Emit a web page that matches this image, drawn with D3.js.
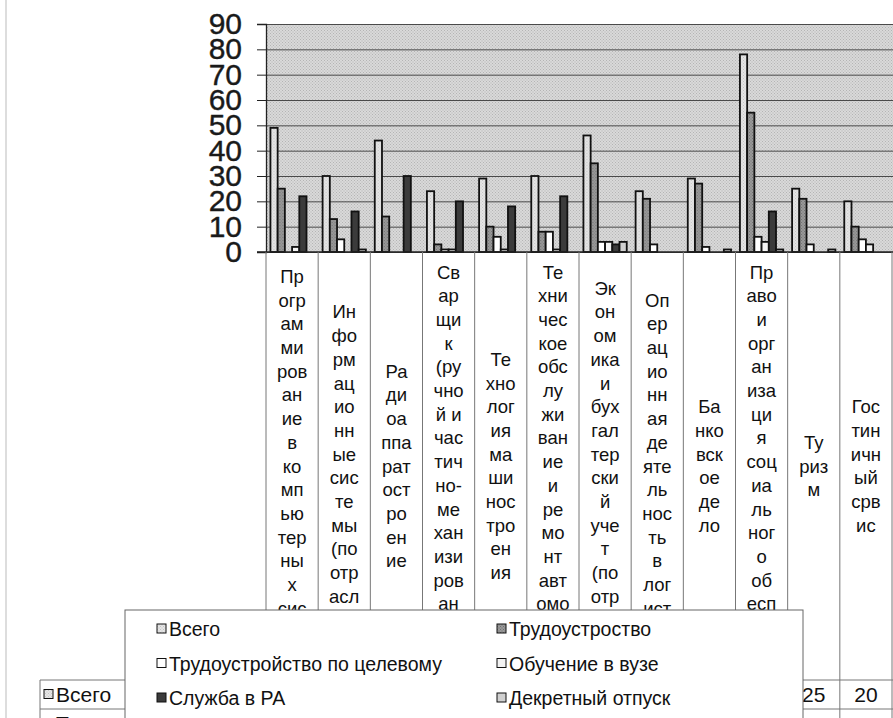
<!DOCTYPE html>
<html>
<head>
<meta charset="utf-8">
<script src="https://cdn.jsdelivr.net/npm/d3@7"></script>
<style>
  body { margin: 0; background: #fff; }
  svg { display: block; font-family: "Liberation Sans", Arial, sans-serif; }
</style>
</head>
<body>
<script>
// categories, with the line breaks the data table used ("|")
const categories = [
  "Пр|огр|ам|ми|ров|ан|ие|в|ко|мп|ью|тер|ны|х|сис|тем|ах",
  "Ин|фо|рм|ац|ио|нн|ые|сис|те|мы|(по|отр|асл|ям)",
  "Ра|ди|оа|ппа|рат|ост|ро|ен|ие",
  "Св|ар|щи|к|(ру|чно|й и|час|тич|но-|ме|хан|изи|ров|ан|ной|сва|рки)",
  "Те|хно|лог|ия|ма|ши|нос|тро|ен|ия",
  "Те|хни|чес|кое|обс|лу|жи|ван|ие|и|ре|мо|нт|авт|омо|бил|ьно|го|тра|нсп|орт|а",
  "Эк|он|ом|ика|и|бух|гал|тер|ски|й|уче|т|(по|отр|асл|ям)",
  "Оп|ер|ац|ио|нн|ая|де|яте|ль|нос|ть|в|лог|ист|ике",
  "Ба|нко|вск|ое|де|ло",
  "Пр|аво|и|орг|ан|иза|ци|я|соц|иа|ль|ног|о|об|есп|еч|ени|я",
  "Ту|риз|м",
  "Гос|тин|ичн|ый|срв|ис"
];

const seriesNames = ["Всего", "Трудоустроство", "Трудоустройство по целевому",
                     "Обучение в вузе", "Служба в РА", "Декретный отпуск"];

// series values
const vsego   = [49, 30, 44, 24, 29, 30, 46, 24, 29, 78, 25, 20];
const trud    = [25, 13, 14,  3, 10,  8, 35, 21, 27, 55, 21, 10];
const celevoy = [ 0,  5,  0,  1,  6,  8,  4,  3,  2,  6,  3,  5];
const vuz     = [ 2,  0,  0,  1,  1,  1,  4,  0,  0,  4,  0,  3];
const armiya  = [22, 16, 30, 20, 18, 22,  3,  0,  0, 16,  0,  0];
const dekret  = [ 0,  1,  0,  0,  0,  0,  4,  0,  1,  1,  1,  0];

const yTicks = [0, 10, 20, 30, 40, 50, 60, 70, 80, 90];

const series = [vsego, trud, celevoy, vuz, armiya, dekret];
const fills = ["url(#pLight)", "url(#pMid)", "#ffffff", "#f3f3f3", "#3b3b3b", "#d0d0d0"];

//chart frame
let width = 893,
    height = 718;
let plotLeft = 266, plotRight = 892, plotTop = 24, plotBottom = 252;
let legendBox = { x: 125, y: 610, w: 678 };

let svg = d3.select("body")
    .append("svg")
    .attr("width", width)
    .attr("height", height);

//patterns for the scanned, stippled look
let defs = svg.append("defs");
function stipple(id, base, dot) {
    let p = defs.append("pattern")
        .attr("id", id)
        .attr("patternUnits", "userSpaceOnUse")
        .attr("width", 3).attr("height", 3);
    p.append("rect").attr("width", 3).attr("height", 3).attr("fill", base);
    p.append("rect").attr("width", 1).attr("height", 1).attr("fill", dot);
    p.append("rect").attr("x", 1.5).attr("y", 1.5).attr("width", 1).attr("height", 1).attr("fill", dot);
}
stipple("pBg", "#d9d9d9", "#b4b4b4");
stipple("pLight", "#e6e6e6", "#c4c4c4");
stipple("pMid", "#9a9a9a", "#707070");

//header text is hidden under the legend, so stop it there
defs.append("clipPath").attr("id", "headClip")
    .append("rect")
    .attr("x", plotLeft).attr("y", plotBottom)
    .attr("width", width - plotLeft).attr("height", legendBox.y - plotBottom);

//scales
let x0 = d3.scaleBand()
    .domain(d3.range(categories.length))
    .range([plotLeft, plotRight])
    .paddingInner(0.17)
    .paddingOuter(0.085);

let x1 = d3.scaleBand()
    .domain(d3.range(series.length))
    .range([0, x0.bandwidth()]);

let y = d3.scaleLinear()
    .domain([0, 90])
    .range([plotBottom, plotTop]);

//page edge line from the scan
svg.append("line")
    .attr("x1", 6).attr("x2", 6).attr("y1", 0).attr("y2", height)
    .attr("stroke", "#bbb").attr("stroke-width", 1);

//plot area
svg.append("rect")
    .attr("x", plotLeft).attr("y", plotTop)
    .attr("width", width - plotLeft).attr("height", plotBottom - plotTop)
    .attr("fill", "url(#pBg)");

//gridlines
svg.append("g")
    .attr("transform", "translate(" + plotLeft + ",0)")
    .call(d3.axisLeft(y).tickValues(yTicks).tickSize(-(width - plotLeft)).tickFormat(""))
    .call(g => g.select(".domain").remove())
    .call(g => g.selectAll("line").attr("stroke", "#4a4a4a").attr("stroke-width", 1));

//y axis
svg.append("g")
    .attr("transform", "translate(" + plotLeft + ",0)")
    .call(d3.axisLeft(y).tickValues(yTicks).tickSize(9).tickPadding(15))
    .call(g => g.select(".domain").attr("stroke", "#222").attr("stroke-width", 1.3))
    .call(g => g.selectAll("line").attr("stroke", "#222"))
    .call(g => g.selectAll("text")
        .attr("font-family", "'Liberation Sans', Arial, sans-serif")
        .attr("font-size", 30)
        .attr("fill", "#1a1a1a")
        .attr("stroke", "#1a1a1a")
        .attr("stroke-width", 0.4));

//bars
let groups = svg.selectAll(".cat")
    .data(categories)
    .enter()
    .append("g")
    .attr("class", "cat")
    .attr("transform", (d, i) => "translate(" + x0(i) + ",0)");

groups.selectAll("rect")
    .data((d, i) => series.map((s, k) => ({ k: k, v: s[i] })))
    .enter()
    .filter(d => d.v > 0)
    .append("rect")
    .attr("x", d => x1(d.k))
    .attr("y", d => y(d.v))
    .attr("width", x1.bandwidth())
    .attr("height", d => y(0) - y(d.v))
    .attr("fill", d => fills[d.k])
    .attr("stroke", "#111")
    .attr("stroke-width", 1.8);

//category axis line
svg.append("line")
    .attr("x1", plotLeft - 9).attr("x2", width)
    .attr("y1", plotBottom).attr("y2", plotBottom)
    .attr("stroke", "#222").attr("stroke-width", 1.3);

//data table: column dividers
let step = x0.step();
svg.selectAll(".divider")
    .data(d3.range(categories.length + 1))
    .enter()
    .append("line")
    .attr("x1", i => plotLeft + i * step)
    .attr("x2", i => plotLeft + i * step)
    .attr("y1", plotBottom)
    .attr("y2", height)
    .attr("stroke", "#777")
    .attr("stroke-width", 1);

//header texts
let lh = 23.7, midY = 466;
let head = svg.append("g").attr("clip-path", "url(#headClip)");
categories.forEach(function (c, i) {
    let lines = c.split("|");
    let startY = Math.max(272, midY - (lines.length - 1) / 2 * lh);
    let cx = plotLeft + (i + 0.5) * step;
    head.selectAll(null)
        .data(lines.filter((d, j) => startY + j * lh < legendBox.y + 8))
        .enter()
        .append("text")
        .attr("x", cx)
        .attr("y", (d, j) => startY + j * lh)
        .attr("text-anchor", "middle")
        .attr("dominant-baseline", "central")
        .attr("font-size", 18.5)
        .attr("fill", "#111")
        .text(d => d);
});

//data table rows (cells under the legend or below the page are hidden)
let rowTop = 680, rowH = 29;
[0, 1].forEach(function (r) {
    let ry = rowTop + r * rowH;
    svg.append("line")
        .attr("x1", 40).attr("x2", width)
        .attr("y1", ry).attr("y2", ry)
        .attr("stroke", "#777");
    svg.append("line")
        .attr("x1", 40).attr("x2", 40)
        .attr("y1", ry).attr("y2", ry + rowH)
        .attr("stroke", "#777");
    svg.append("rect")
        .attr("x", 44).attr("y", ry + rowH / 2 - 5)
        .attr("width", 9).attr("height", 9)
        .attr("fill", fills[r]).attr("stroke", "#111");
    svg.append("text")
        .attr("x", 56).attr("y", ry + rowH / 2)
        .attr("dominant-baseline", "central")
        .attr("font-size", 21).attr("fill", "#111")
        .text(seriesNames[r]);
    if (r > 0) return;
    svg.selectAll(null)
        .data(series[r].map((v, i) => ({ v: v, cx: plotLeft + (i + 0.5) * step })))
        .enter()
        .filter(d => d.cx > legendBox.x + legendBox.w)
        .append("text")
        .attr("x", d => d.cx)
        .attr("y", ry + rowH / 2)
        .attr("text-anchor", "middle")
        .attr("dominant-baseline", "central")
        .attr("font-size", 21).attr("fill", "#111")
        .text(d => d.v);
});

//legend
let legend = svg.append("g");
legend.append("rect")
    .attr("x", legendBox.x).attr("y", legendBox.y)
    .attr("width", legendBox.w).attr("height", 130)
    .attr("fill", "#fff").attr("stroke", "#666").attr("stroke-width", 1);

let items = legend.selectAll(".item")
    .data(seriesNames)
    .enter()
    .append("g")
    .attr("class", "item")
    .attr("transform", (d, i) => "translate(" + (i % 2 === 0 ? 157 : 497) + "," + (629 + Math.floor(i / 2) * 34.5) + ")");

items.append("rect")
    .attr("x", 0).attr("y", -5)
    .attr("width", 9).attr("height", 9)
    .attr("fill", (d, i) => fills[i])
    .attr("stroke", "#111");

items.append("text")
    .attr("x", 12).attr("y", 0)
    .attr("dominant-baseline", "central")
    .attr("font-size", 19.5).attr("fill", "#111")
    .text(d => d);
</script>
</body>
</html>
